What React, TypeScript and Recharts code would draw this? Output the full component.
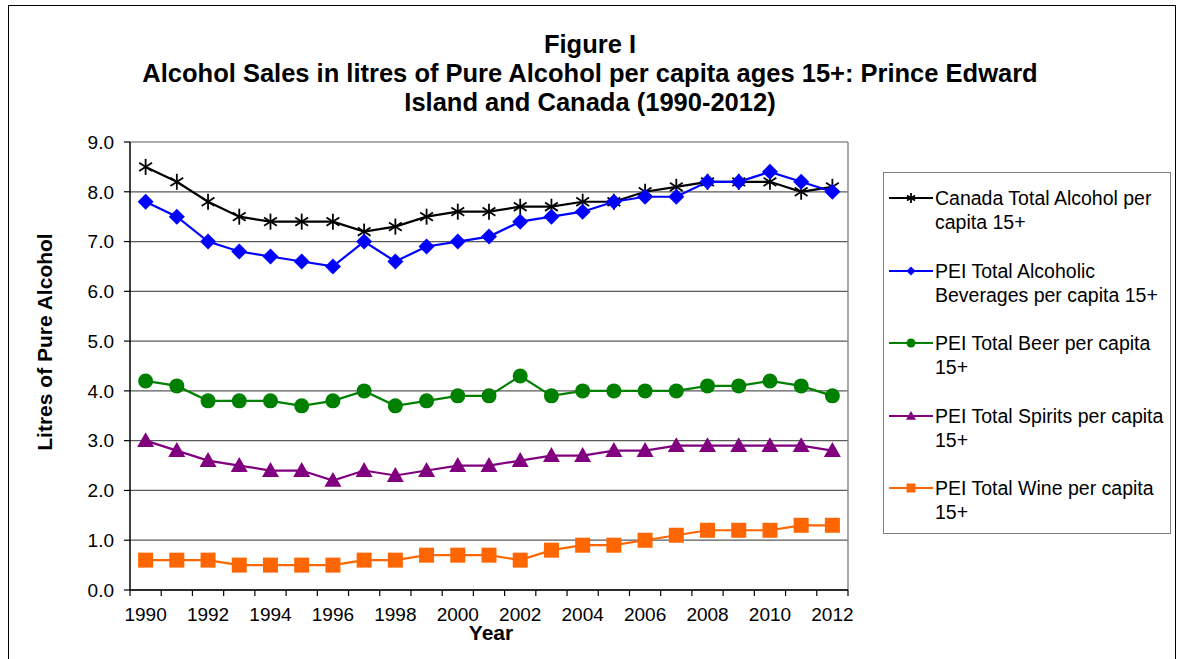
import React from 'react';
import { LineChart, Line, XAxis, YAxis, CartesianGrid, Legend, ReferenceLine } from 'recharts';

const years = [1990, 1991, 1992, 1993, 1994, 1995, 1996, 1997, 1998, 1999, 2000, 2001, 2002, 2003, 2004, 2005, 2006, 2007, 2008, 2009, 2010, 2011, 2012];
const canadaTotal = [8.5, 8.2, 7.8, 7.5, 7.4, 7.4, 7.4, 7.2, 7.3, 7.5, 7.6, 7.6, 7.7, 7.7, 7.8, 7.8, 8.0, 8.1, 8.2, 8.2, 8.2, 8.0, 8.1];
const peiTotal = [7.8, 7.5, 7.0, 6.8, 6.7, 6.6, 6.5, 7.0, 6.6, 6.9, 7.0, 7.1, 7.4, 7.5, 7.6, 7.8, 7.9, 7.9, 8.2, 8.2, 8.4, 8.2, 8.0];
const peiBeer = [4.2, 4.1, 3.8, 3.8, 3.8, 3.7, 3.8, 4.0, 3.7, 3.8, 3.9, 3.9, 4.3, 3.9, 4.0, 4.0, 4.0, 4.0, 4.1, 4.1, 4.2, 4.1, 3.9];
const peiSpirits = [3.0, 2.8, 2.6, 2.5, 2.4, 2.4, 2.2, 2.4, 2.3, 2.4, 2.5, 2.5, 2.6, 2.7, 2.7, 2.8, 2.8, 2.9, 2.9, 2.9, 2.9, 2.9, 2.8];
const peiWine = [0.6, 0.6, 0.6, 0.5, 0.5, 0.5, 0.5, 0.6, 0.6, 0.7, 0.7, 0.7, 0.6, 0.8, 0.9, 0.9, 1.0, 1.1, 1.2, 1.2, 1.2, 1.3, 1.3];
const yTicks = [0, 1, 2, 3, 4, 5, 6, 7, 8, 9];
const xLabelTicks = [1990, 1992, 1994, 1996, 1998, 2000, 2002, 2004, 2006, 2008, 2010, 2012];

const titleLines = ['Figure I', 'Alcohol Sales in litres of Pure Alcohol per capita ages 15+: Prince Edward', 'Island and Canada (1990-2012)'];
const yAxisTitle = 'Litres of Pure Alcohol';
const xAxisTitle = 'Year';

const seriesDefs = [
  { key: 'canada', values: canadaTotal, name: 'Canada Total Alcohol per\ncapita 15+', color: '#000000', shape: 'star' },
  { key: 'peiTotal', values: peiTotal, name: 'PEI Total Alcoholic\nBeverages per capita 15+', color: '#0000FF', shape: 'diamond' },
  { key: 'beer', values: peiBeer, name: 'PEI Total Beer per capita\n15+', color: '#008000', shape: 'circle' },
  { key: 'spirits', values: peiSpirits, name: 'PEI Total Spirits per capita\n15+', color: '#800080', shape: 'triangle' },
  { key: 'wine', values: peiWine, name: 'PEI Total Wine per capita\n15+', color: '#FF6600', shape: 'square' },
];

const data = years.map((y, i) => {
  const row: any = { year: y };
  seriesDefs.forEach((s) => { row[s.key] = s.values[i]; });
  return row;
});

const W = 1184;
const H = 659;
const MARGIN = { top: 142, right: 336, bottom: 29, left: 70 };
const Y_AXIS_W = 60;
const X_AXIS_H = 40;
const PLOT_W = W - MARGIN.left - MARGIN.right - Y_AXIS_W;
const STEP = PLOT_W / years.length;
const FONT = 'Arial, "Liberation Sans", sans-serif';

function Marker({ shape, cx, cy, color, s }: any) {
  if (cx == null || cy == null) return null;
  if (shape === 'star') {
    const d = s * 0.8;
    return (
      <g stroke={color} strokeWidth={1.8}>
        <line x1={cx} y1={cy - s} x2={cx} y2={cy + s} />
        <line x1={cx - d} y1={cy - d * 0.65} x2={cx + d} y2={cy + d * 0.65} />
        <line x1={cx - d} y1={cy + d * 0.65} x2={cx + d} y2={cy - d * 0.65} />
      </g>
    );
  }
  if (shape === 'diamond') {
    return <path d={`M${cx},${cy - s}L${cx + s},${cy}L${cx},${cy + s}L${cx - s},${cy}Z`} fill={color} />;
  }
  if (shape === 'circle') {
    return <circle cx={cx} cy={cy} r={s} fill={color} />;
  }
  if (shape === 'triangle') {
    return <path d={`M${cx},${cy - s}L${cx + s},${cy + s * 0.75}L${cx - s},${cy + s * 0.75}Z`} fill={color} />;
  }
  return <rect x={cx - s} y={cy - s} width={2 * s} height={2 * s} fill={color} />;
}

const dotSize: any = { star: 8, diamond: 8, circle: 7.5, triangle: 8.5, square: 7.5 };
const legendSize: any = { star: 5, diamond: 4.5, circle: 4.5, triangle: 5, square: 4.5 };

function renderXTick(props: any) {
  const { x, y, payload } = props;
  return (
    <g>
      <line x1={x - STEP / 2} y1={y} x2={x - STEP / 2} y2={y + 6} stroke="#000" strokeWidth={1.2} />
      <line x1={x + STEP / 2} y1={y} x2={x + STEP / 2} y2={y + 6} stroke="#000" strokeWidth={1.2} />
      <text x={x} y={y + 31} textAnchor="middle" fontSize={19} fill="#000" fontFamily={FONT}>
        {payload.value}
      </text>
    </g>
  );
}

function renderLegend() {
  return (
    <div style={{ fontFamily: FONT, fontSize: 19.5, color: '#000', paddingTop: 13 }}>
      {seriesDefs.map((s) => (
        <div key={s.key} style={{ position: 'relative', height: 48, marginBottom: 24.5 }}>
          <svg width={44} height={24} style={{ position: 'absolute', left: 5, top: 0 }}>
            <line x1={0} y1={12} x2={44} y2={12} stroke={s.color} strokeWidth={2} />
            <Marker shape={s.shape} cx={22} cy={12} color={s.color} s={legendSize[s.shape]} />
          </svg>
          <div style={{ position: 'absolute', left: 51, top: 0, lineHeight: '24px', whiteSpace: 'pre' }}>{s.name}</div>
        </div>
      ))}
    </div>
  );
}

export default function App() {
  return (
    <div style={{ position: 'absolute', left: 0, top: 0, width: W, height: H, background: '#fff', fontFamily: FONT }}>
      <div style={{ position: 'absolute', left: 8, top: 5, width: 1168, height: 660, border: '1px solid #000', boxSizing: 'border-box' }} />
      <div style={{ position: 'absolute', left: 0, top: 30, width: 1180, textAlign: 'center', fontWeight: 'bold', fontSize: 25.5, lineHeight: '29px', color: '#000' }}>
        {titleLines.map((t) => (
          <div key={t}>{t}</div>
        ))}
      </div>
      <div style={{ position: 'absolute', left: 45, top: 342, transform: 'translate(-50%, -50%) rotate(-90deg)', whiteSpace: 'nowrap', fontWeight: 'bold', fontSize: 21, color: '#000' }}>
        {yAxisTitle}
      </div>
      <div style={{ position: 'absolute', left: 491, top: 633, transform: 'translate(-50%, -50%)', whiteSpace: 'nowrap', fontWeight: 'bold', fontSize: 21, color: '#000' }}>
        {xAxisTitle}
      </div>
      <div style={{ position: 'absolute', left: 0, top: 0 }}>
        <LineChart width={W} height={H} data={data} margin={MARGIN}>
          <CartesianGrid horizontal={true} vertical={false} stroke="#5a5a5a" strokeWidth={1.2} />
          <XAxis
            dataKey="year"
            type="number"
            domain={[1989.5, 2012.5]}
            ticks={xLabelTicks}
            interval={0}
            height={X_AXIS_H}
            tickLine={false}
            tickSize={0}
            tickMargin={0}
            axisLine={{ stroke: '#000', strokeWidth: 1.5 }}
            tick={renderXTick}
          />
          <YAxis
            type="number"
            domain={[0, 9]}
            ticks={yTicks}
            interval={0}
            width={Y_AXIS_W}
            tickFormatter={(v: number) => v.toFixed(1)}
            tickSize={6}
            tickMargin={10}
            tickLine={{ stroke: '#000', strokeWidth: 1.2 }}
            axisLine={{ stroke: '#000', strokeWidth: 1.5 }}
            tick={{ fill: '#000', fontSize: 19, fontFamily: FONT }}
          />
          <ReferenceLine x={2012.5} stroke="#8a8a8a" strokeWidth={1.5} />
          {seriesDefs.map((s) => (
            <Line
              key={s.key}
              dataKey={s.key}
              name={s.name}
              stroke={s.color}
              strokeWidth={2.2}
              isAnimationActive={false}
              dot={(p: any) => <Marker key={`${s.key}-${p.index}`} shape={s.shape} cx={p.cx} cy={p.cy} color={s.color} s={dotSize[s.shape]} />}
              activeDot={false}
            />
          ))}
          <Legend
            layout="vertical"
            align="center"
            verticalAlign="middle"
            content={renderLegend}
            wrapperStyle={{ position: 'absolute', left: 883, top: 172, width: 288, height: 362, border: '1px solid #808080', boxSizing: 'border-box', background: '#fff' }}
          />
        </LineChart>
      </div>
    </div>
  );
}
